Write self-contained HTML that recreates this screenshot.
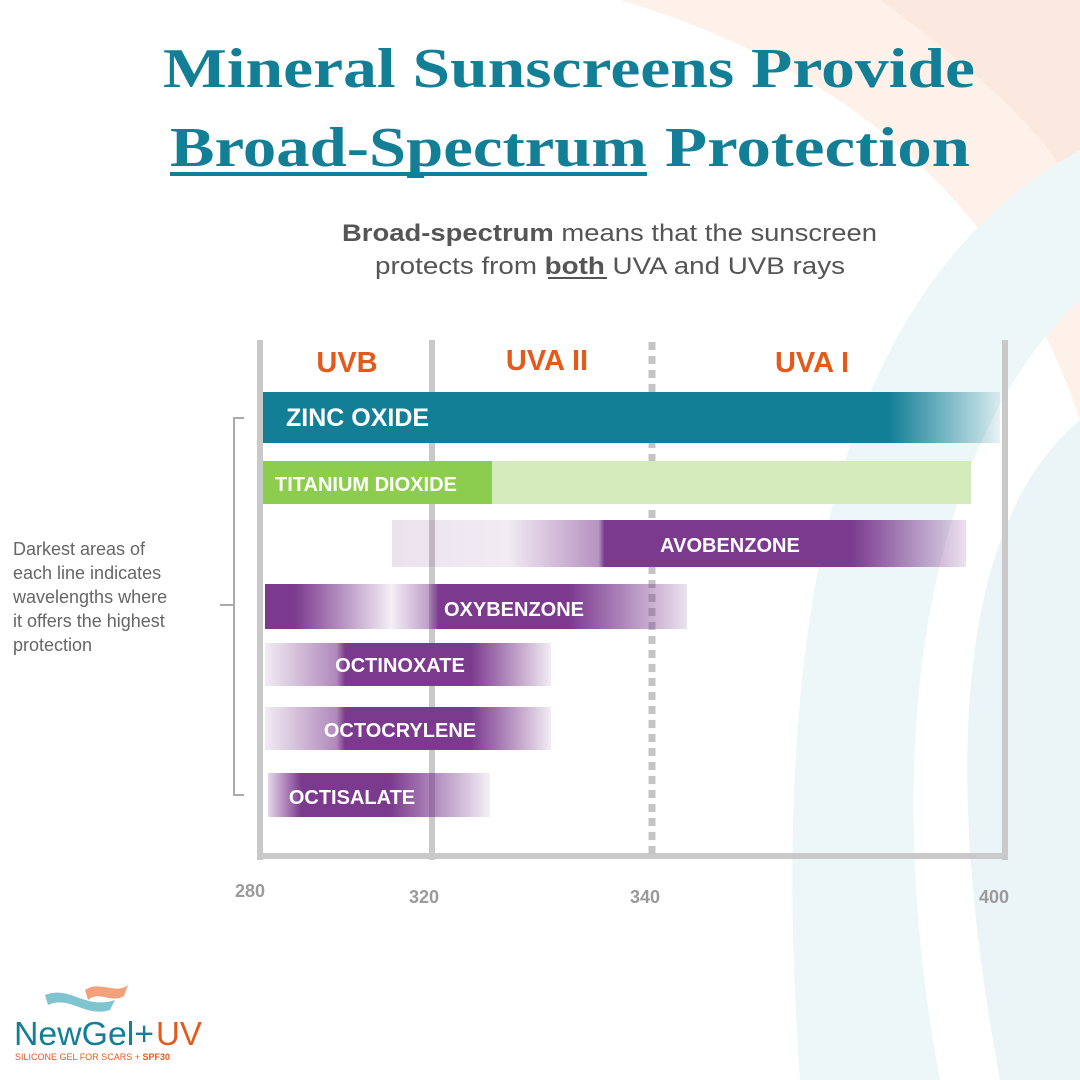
<!DOCTYPE html>
<html><head><meta charset="utf-8"><style>
html,body{margin:0;padding:0;background:#fff;}
svg{display:block;}
text{font-family:"Liberation Sans",sans-serif;}
</style></head><body>
<svg width="1080" height="1080" viewBox="0 0 1080 1080" xmlns="http://www.w3.org/2000/svg">
<defs>
<linearGradient id="zinc" x1="263" x2="1000" gradientUnits="userSpaceOnUse">
<stop offset="0" stop-color="#137f96"/><stop offset="0.85" stop-color="#137f96"/><stop offset="1" stop-color="#137f96" stop-opacity="0.1"/></linearGradient>
<linearGradient id="avo" x1="392" x2="966" gradientUnits="userSpaceOnUse">
<stop offset="0" stop-color="#7b3a8e" stop-opacity="0.15"/><stop offset="0.2" stop-color="#7b3a8e" stop-opacity="0.1"/><stop offset="0.36" stop-color="#7b3a8e" stop-opacity="0.55"/><stop offset="0.37" stop-color="#7b3a8e"/><stop offset="0.8" stop-color="#7b3a8e"/><stop offset="1" stop-color="#7b3a8e" stop-opacity="0.15"/></linearGradient>
<linearGradient id="oxy" x1="265" x2="687" gradientUnits="userSpaceOnUse">
<stop offset="0" stop-color="#7b3a8e"/><stop offset="0.07" stop-color="#7b3a8e"/><stop offset="0.3" stop-color="#7b3a8e" stop-opacity="0.08"/><stop offset="0.39" stop-color="#7b3a8e" stop-opacity="0.5"/><stop offset="0.41" stop-color="#7b3a8e"/><stop offset="0.72" stop-color="#7b3a8e"/><stop offset="1" stop-color="#7b3a8e" stop-opacity="0.15"/></linearGradient>
<linearGradient id="oct" x1="265" x2="551" gradientUnits="userSpaceOnUse">
<stop offset="0" stop-color="#7b3a8e" stop-opacity="0.1"/><stop offset="0.25" stop-color="#7b3a8e" stop-opacity="0.6"/><stop offset="0.28" stop-color="#7b3a8e"/><stop offset="0.72" stop-color="#7b3a8e"/><stop offset="1" stop-color="#7b3a8e" stop-opacity="0.1"/></linearGradient>
<linearGradient id="octs" x1="268" x2="490" gradientUnits="userSpaceOnUse">
<stop offset="0" stop-color="#7b3a8e" stop-opacity="0.2"/><stop offset="0.15" stop-color="#7b3a8e"/><stop offset="0.55" stop-color="#7b3a8e"/><stop offset="1" stop-color="#7b3a8e" stop-opacity="0.08"/></linearGradient>
</defs>
<!-- background decoration -->
<path d="M620,0 C820,60 1000,180 1080,420 L1080,0 Z" fill="#fdf1ea"/>
<path d="M880,0 C960,60 1040,120 1080,200 L1080,0 Z" fill="#fbe9df"/>
<path d="M1080,150 C880,260 760,520 800,1080 L940,1080 C880,760 920,450 1080,300 Z" fill="#eef7f8"/>
<path d="M1080,420 C960,520 940,760 1000,1080 L1080,1080 Z" fill="#ebf5f7"/>
<!-- title -->
<g font-weight="bold" fill="#137f96" font-size="56">
<text x="163" y="87" textLength="812" lengthAdjust="spacingAndGlyphs" style="font-family:'Liberation Serif',serif">Mineral Sunscreens Provide</text>
<text x="170" y="166" textLength="477" lengthAdjust="spacingAndGlyphs" style="font-family:'Liberation Serif',serif">Broad-Spectrum</text>
<text x="665" y="166" textLength="305" lengthAdjust="spacingAndGlyphs" style="font-family:'Liberation Serif',serif">Protection</text>
</g>
<rect x="170" y="172" width="477" height="4" fill="#137f96"/>
<!-- subtitle -->
<text x="342" y="241" font-size="24" fill="#555" textLength="535" lengthAdjust="spacingAndGlyphs"><tspan font-weight="bold">Broad-spectrum</tspan> means that the sunscreen</text>
<text x="375" y="274" font-size="24" fill="#555" textLength="470" lengthAdjust="spacingAndGlyphs">protects from <tspan font-weight="bold">both</tspan> UVA and UVB rays</text>
<rect x="548" y="277" width="59" height="2" fill="#555"/>
<!-- axes -->
<g fill="#c9c9c9">
<rect x="257" y="340" width="6" height="520"/>
<rect x="429" y="340" width="6" height="520"/>
<rect x="1002" y="340" width="6" height="520"/>
<rect x="257" y="853" width="751" height="6"/>
</g>
<line x1="652" y1="342" x2="652" y2="858" stroke="#c4c4c4" stroke-width="7" stroke-dasharray="8,6"/>
<!-- header -->
<g font-size="29" font-weight="bold" fill="#e25a1c" text-anchor="middle">
<text x="347" y="372">UVB</text><text x="547" y="370">UVA II</text><text x="812" y="372">UVA I</text>
</g>
<!-- bars -->
<rect x="263" y="392" width="737" height="51" fill="url(#zinc)"/>
<rect x="263" y="461" width="708" height="43" fill="#d4ecbc"/>
<rect x="263" y="461" width="229" height="43" fill="#8ccd4e"/>
<rect x="392" y="520" width="574" height="47" fill="url(#avo)"/>
<rect x="265" y="584" width="422" height="45" fill="url(#oxy)"/>
<rect x="265" y="643" width="286" height="43" fill="url(#oct)"/>
<rect x="265" y="707" width="286" height="43" fill="url(#oct)"/>
<rect x="268" y="773" width="222" height="44" fill="url(#octs)"/>
<g fill="#fff" font-weight="bold">
<text x="286" y="426" font-size="25">ZINC OXIDE</text>
<text x="275" y="491" font-size="20">TITANIUM DIOXIDE</text>
<text x="730" y="552" font-size="20" text-anchor="middle">AVOBENZONE</text>
<text x="514" y="616" font-size="20" text-anchor="middle">OXYBENZONE</text>
<text x="400" y="672" font-size="20" text-anchor="middle">OCTINOXATE</text>
<text x="400" y="737" font-size="20" text-anchor="middle">OCTOCRYLENE</text>
<text x="352" y="804" font-size="20" text-anchor="middle">OCTISALATE</text>
</g>
<!-- ticks -->
<g font-size="18" font-weight="bold" fill="#9a9a9a" text-anchor="middle">
<text x="250" y="897">280</text><text x="424" y="903">320</text><text x="645" y="903">340</text><text x="994" y="903">400</text>
</g>
<!-- bracket -->
<path d="M244,418 L234,418 L234,795 L244,795 M234,605 L220,605" stroke="#aaa" stroke-width="2" fill="none"/>
<g font-size="18" fill="#666">
<text x="13" y="555">Darkest areas of</text>
<text x="13" y="579">each line indicates</text>
<text x="13" y="603">wavelengths where</text>
<text x="13" y="627">it offers the highest</text>
<text x="13" y="651">protection</text>
</g>
<!-- logo -->
<path d="M45,995 C70,985 85,1010 115,1000 L110,1010 C85,1018 70,995 48,1005 Z" fill="#5fb6c4" opacity="0.8"/>
<path d="M85,990 C100,980 115,995 128,985 L124,996 C110,1004 100,990 88,1000 Z" fill="#f08a5a" opacity="0.8"/>
<text x="14" y="1045" font-size="33" fill="#137f96" textLength="140" lengthAdjust="spacingAndGlyphs">NewGel+</text>
<text x="156" y="1045" font-size="33" fill="#e25a1c">UV</text>
<text x="15" y="1060" font-size="9" fill="#e25a1c">SILICONE GEL FOR SCARS + <tspan font-weight="bold">SPF30</tspan></text>
</svg>
</body></html>
